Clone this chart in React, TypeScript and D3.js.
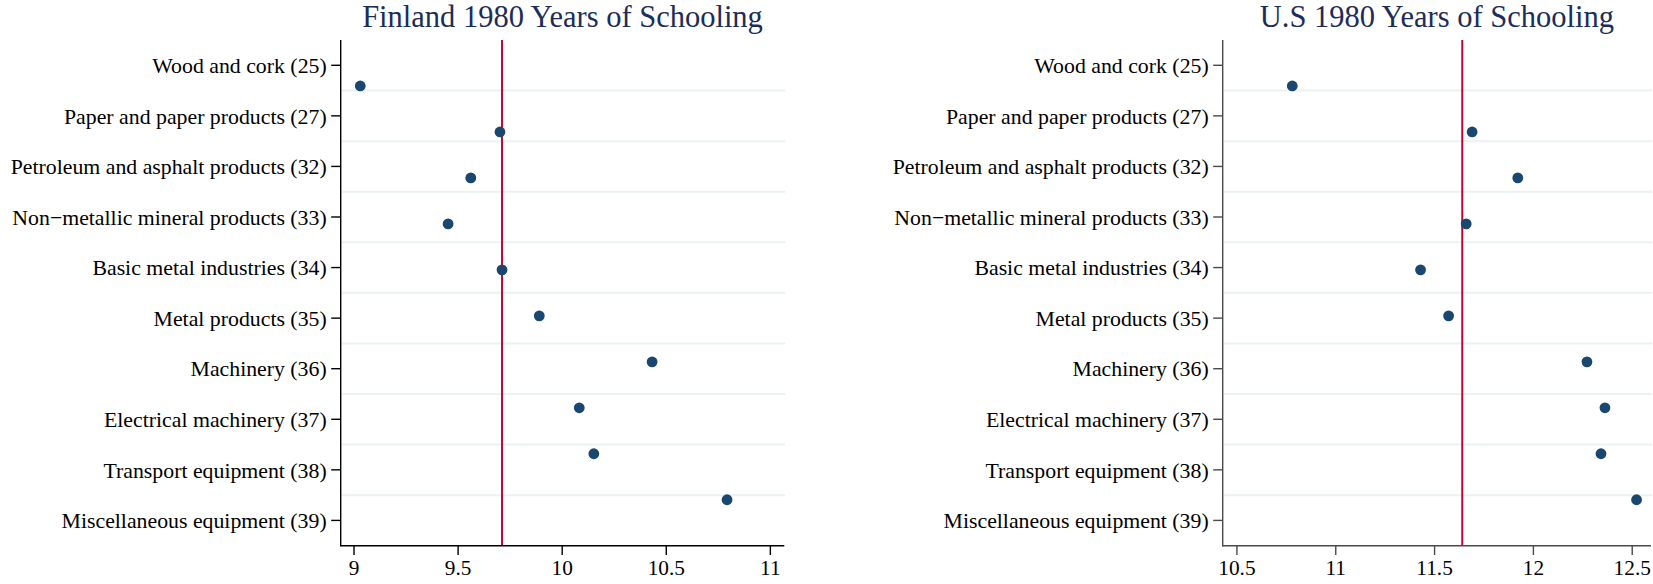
import React from "react";
import * as d3 from "d3";

// Industries (ISIC codes) listed top to bottom
const categories = [
  "Wood and cork (25)",
  "Paper and paper products (27)",
  "Petroleum and asphalt products (32)",
  "Non\u2212metallic mineral products (33)",
  "Basic metal industries (34)",
  "Metal products (35)",
  "Machinery (36)",
  "Electrical machinery (37)",
  "Transport equipment (38)",
  "Miscellaneous equipment (39)",
];

// Average years of schooling by industry, 1980
const finlandValues = [9.03, 9.701, 9.561, 9.452, 9.711, 9.89, 10.432, 10.082, 10.152, 10.792];
const usValues = [10.78, 11.69, 11.921, 11.66, 11.429, 11.571, 12.271, 12.362, 12.342, 12.522];

// Reference line (overall average)
const finlandRef = 9.711;
const usRef = 11.64;

const finlandTicks = [9, 9.5, 10, 10.5, 11];
const usTicks = [10.5, 11, 11.5, 12, 12.5];

const finlandDomain: [number, number] = [8.936, 11.067];
const usDomain: [number, number] = [10.428, 12.595];

const FONT = "'Liberation Serif', 'Times New Roman', Times, serif";
const DOT = "#1a476f";
const REF = "#c10534";
const GRID = "#eaf2f3";
const TITLE = "#1c2d59";

interface PanelProps {
  title: string;
  values: number[];
  refValue: number;
  ticks: number[];
  domain: [number, number];
  x0: number;
  x1: number;
  axisColor: string;
}

const TOP = 40;
const BOTTOM = 545.7;

function Panel({ title, values, refValue, ticks, domain, x0, x1, axisColor }: PanelProps) {
  const x = d3.scaleLinear().domain(domain).range([x0, x1]);
  // label ticks sit at band centres; markers use a wider outer padding
  const yLabel = d3.scalePoint<string>().domain(categories).range([TOP, BOTTOM]).padding(0.5);
  const yDot = d3.scalePoint<string>().domain(categories).range([TOP, BOTTOM]).padding(1);
  const step = yLabel.step();
  const gridYs = d3.range(1, categories.length).map((i) => TOP + i * step);

  return (
    <g>
      <text
        x={(x0 + x1) / 2}
        y={26.7}
        textAnchor="middle"
        fontFamily={FONT}
        fontSize={30.5}
        fill={TITLE}
      >
        {title}
      </text>
      {gridYs.map((gy, i) => (
        <line key={"g" + i} x1={x0 + 1} x2={x1 + 1} y1={gy} y2={gy} stroke={GRID} strokeWidth={2} />
      ))}
      <line
        x1={x(refValue)}
        x2={x(refValue)}
        y1={TOP}
        y2={BOTTOM}
        stroke={REF}
        strokeWidth={2}
      />
      {categories.map((c, i) => (
        <circle key={"d" + i} cx={x(values[i])} cy={yDot(c)!} r={5.4} fill={DOT} />
      ))}
      {/* y axis */}
      <line x1={x0} x2={x0} y1={TOP} y2={BOTTOM + 0.7} stroke={axisColor} strokeWidth={1.4} />
      {categories.map((c, i) => {
        const yy = yLabel(c)!;
        return (
          <g key={"l" + i}>
            <line x1={x0 - 9.5} x2={x0} y1={yy} y2={yy} stroke={axisColor} strokeWidth={1.4} />
            <text
              x={x0 - 14}
              y={yy + 7.7}
              textAnchor="end"
              fontFamily={FONT}
              fontSize={21.8}
              fill="#000"
            >
              {c}
            </text>
          </g>
        );
      })}
      {/* x axis */}
      <line x1={x0} x2={x1} y1={BOTTOM} y2={BOTTOM} stroke={axisColor} strokeWidth={1.4} />
      {ticks.map((t, i) => (
        <g key={"t" + i}>
          <line x1={x(t)} x2={x(t)} y1={BOTTOM} y2={BOTTOM + 9.3} stroke={axisColor} strokeWidth={1.4} />
          <text
            x={x(t)}
            y={575}
            textAnchor="middle"
            fontFamily={FONT}
            fontSize={21.3}
            fill="#000"
          >
            {String(t)}
          </text>
        </g>
      ))}
    </g>
  );
}

export default function App() {
  return (
    <svg
      width={1653}
      height={584}
      style={{ position: "absolute", left: 0, top: 0, display: "block", background: "#fff" }}
    >
      <rect width={1653} height={584} fill="#fff" />
      <Panel
        title="Finland 1980 Years of Schooling"
        values={finlandValues}
        refValue={finlandRef}
        ticks={finlandTicks}
        domain={finlandDomain}
        x0={340.7}
        x1={784.3}
        axisColor="#000"
      />
      <Panel
        title="U.S 1980 Years of Schooling"
        values={usValues}
        refValue={usRef}
        ticks={usTicks}
        domain={usDomain}
        x0={1222.7}
        x1={1651}
        axisColor="#4a4a4a"
      />
    </svg>
  );
}
